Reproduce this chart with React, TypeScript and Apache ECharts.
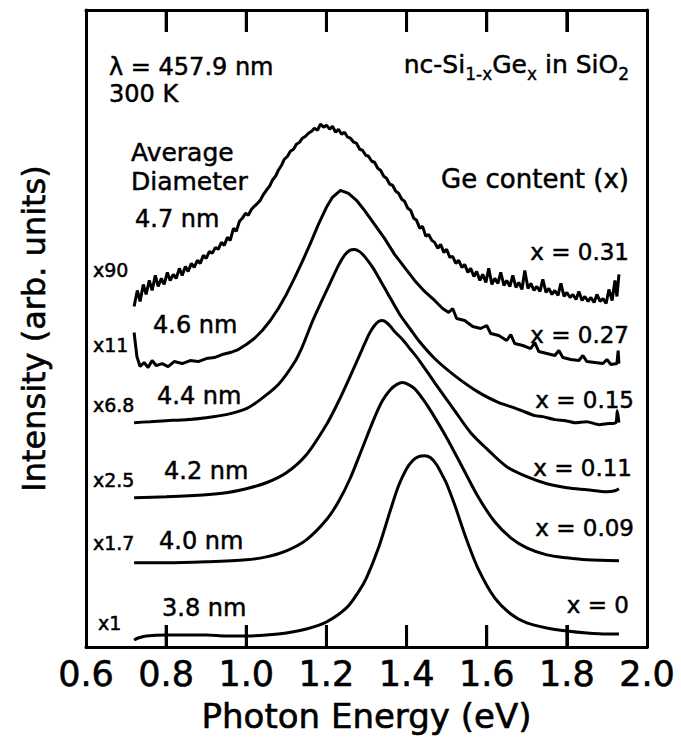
import React, { useEffect, useRef } from "react";
import * as echarts from "echarts";

// ---------- data ----------
const xTickValues = [0.6, 0.8, 1.0, 1.2, 1.4, 1.6, 1.8, 2.0];
const diameters = ["4.7 nm", "4.6 nm", "4.4 nm", "4.2 nm", "4.0 nm", "3.8 nm"];
const multipliers = ["x90", "x11", "x6.8", "x2.5", "x1.7", "x1"];
const geContent = ["x = 0.31", "x = 0.27", "x = 0.15", "x = 0.11", "x = 0.09", "x = 0"];

// PL spectra (photon energy eV, offset intensity arb. units)
const spectrumX90: [number, number][] = [
  [0.72, 340], [0.728, 356], [0.735, 345], [0.743, 362], [0.75, 352], [0.758, 366], [0.765, 356], [0.773, 371],
  [0.78, 360], [0.788, 368], [0.795, 362], [0.803, 374], [0.81, 366], [0.818, 372], [0.825, 368], [0.833, 378],
  [0.84, 371], [0.848, 380], [0.855, 375], [0.863, 383], [0.87, 379], [0.878, 386], [0.885, 383], [0.893, 391],
  [0.9, 388], [0.908, 395], [0.915, 393], [0.923, 399], [0.93, 397], [0.938, 404], [0.945, 401], [0.953, 409],
  [0.96, 406], [0.968, 418], [0.975, 415], [0.983, 425], [0.99, 428], [0.998, 433], [1.005, 431], [1.013, 437],
  [1.02, 440], [1.028, 443], [1.035, 446], [1.043, 452], [1.05, 456], [1.058, 460], [1.065, 466], [1.073, 470],
  [1.08, 476], [1.088, 481], [1.095, 487], [1.103, 490], [1.11, 495], [1.118, 497], [1.125, 502], [1.133, 504],
  [1.14, 508], [1.148, 510], [1.155, 513], [1.163, 515], [1.17, 518], [1.178, 516], [1.185, 522], [1.193, 519],
  [1.2, 521], [1.208, 517], [1.215, 520], [1.223, 514], [1.23, 517], [1.238, 512], [1.245, 514], [1.253, 509],
  [1.26, 508], [1.268, 504], [1.275, 503], [1.283, 497], [1.29, 496], [1.298, 491], [1.305, 490], [1.313, 485],
  [1.32, 484], [1.328, 478], [1.335, 476], [1.343, 470], [1.35, 468], [1.358, 462], [1.365, 461], [1.373, 455],
  [1.38, 453], [1.388, 447], [1.395, 445], [1.403, 438], [1.41, 436], [1.418, 428], [1.425, 426], [1.433, 418],
  [1.44, 420], [1.448, 410], [1.455, 412], [1.463, 406], [1.47, 404], [1.478, 398], [1.485, 402], [1.493, 394],
  [1.5, 397], [1.508, 389], [1.515, 390], [1.523, 383], [1.53, 386], [1.538, 379], [1.545, 382], [1.553, 374],
  [1.56, 378], [1.568, 370], [1.575, 375], [1.583, 366], [1.59, 372], [1.598, 364], [1.605, 378], [1.613, 362],
  [1.62, 368], [1.628, 363], [1.635, 374], [1.643, 361], [1.65, 366], [1.658, 360], [1.665, 371], [1.673, 359],
  [1.68, 364], [1.688, 357], [1.695, 376], [1.703, 358], [1.71, 363], [1.718, 356], [1.725, 360], [1.733, 355],
  [1.74, 367], [1.748, 354], [1.755, 358], [1.763, 352], [1.77, 356], [1.778, 351], [1.785, 363], [1.793, 350],
  [1.8, 354], [1.808, 349], [1.815, 352], [1.823, 347], [1.83, 355], [1.838, 346], [1.845, 350], [1.853, 345],
  [1.86, 349], [1.868, 344], [1.875, 352], [1.883, 345], [1.89, 348], [1.898, 343], [1.905, 357], [1.913, 346],
  [1.92, 366], [1.925, 350], [1.93, 372],
];

const spectrumX11: [number, number][] = [
  [0.72, 314], [0.727, 290], [0.735, 280], [0.745, 284], [0.755, 279], [0.765, 286], [0.775, 281], [0.79, 283],
  [0.805, 280], [0.82, 285], [0.84, 283], [0.86, 286], [0.88, 285], [0.9, 288], [0.92, 289], [0.94, 292],
  [0.96, 294], [0.98, 297], [1.0, 302], [1.02, 308], [1.04, 316], [1.06, 326], [1.08, 338], [1.1, 352],
  [1.12, 368], [1.14, 385], [1.16, 403], [1.18, 422], [1.2, 439], [1.215, 449], [1.235, 456], [1.255, 453],
  [1.275, 446], [1.295, 436], [1.32, 422], [1.345, 408], [1.37, 392], [1.395, 379], [1.42, 366], [1.445, 355],
  [1.47, 346], [1.49, 338], [1.505, 334], [1.515, 338], [1.525, 328], [1.545, 326], [1.565, 320], [1.585, 318],
  [1.6, 321], [1.61, 313], [1.63, 311], [1.65, 306], [1.66, 312], [1.67, 303], [1.69, 301], [1.71, 298],
  [1.72, 304], [1.73, 295], [1.75, 293], [1.77, 291], [1.78, 296], [1.79, 289], [1.81, 287], [1.83, 286],
  [1.84, 291], [1.85, 285], [1.87, 284], [1.89, 283], [1.9, 287], [1.91, 282], [1.925, 283], [1.928, 296],
  [1.93, 283],
];

const spectrumX68: [number, number][] = [
  [0.72, 224], [0.76, 225], [0.8, 226], [0.85, 227], [0.9, 229], [0.95, 232], [1.0, 238], [1.035, 247],
  [1.08, 262], [1.12, 284], [1.14, 300], [1.165, 325], [1.19, 347], [1.21, 364], [1.23, 381], [1.245, 391],
  [1.258, 396], [1.27, 397], [1.282, 395], [1.295, 390], [1.317, 378], [1.35, 355], [1.383, 332], [1.41, 317],
  [1.43, 306], [1.47, 288], [1.52, 271], [1.577, 255], [1.63, 244], [1.66, 240], [1.687, 236], [1.72, 231],
  [1.74, 230], [1.77, 227], [1.797, 226], [1.82, 224], [1.85, 225], [1.88, 222], [1.9, 223], [1.922, 224],
  [1.926, 236], [1.93, 224],
];

const spectrumX25: [number, number][] = [
  [0.72, 149], [0.8, 150], [0.9, 152], [0.95, 154], [1.0, 158], [1.05, 164], [1.1, 174], [1.15, 192],
  [1.2, 222], [1.23, 245], [1.26, 271], [1.29, 298], [1.3, 307], [1.31, 315], [1.32, 321], [1.33, 325],
  [1.34, 326], [1.35, 324], [1.36, 320], [1.37, 315], [1.39, 307], [1.41, 297], [1.43, 287], [1.47, 264],
  [1.52, 236], [1.56, 214], [1.6, 198], [1.65, 180], [1.7, 170], [1.75, 163], [1.8, 159], [1.85, 157],
  [1.9, 155], [1.92, 156], [1.93, 158],
];

const spectrumX17: [number, number][] = [
  [0.72, 84], [0.8, 84], [0.9, 85], [1.0, 87], [1.05, 90], [1.1, 96], [1.15, 107], [1.2, 127],
  [1.23, 145], [1.26, 169], [1.29, 199], [1.32, 229], [1.34, 246], [1.36, 257], [1.375, 262], [1.39, 264],
  [1.405, 262], [1.42, 258], [1.44, 248], [1.46, 236], [1.5, 209], [1.54, 179], [1.58, 149], [1.62, 125],
  [1.66, 109], [1.7, 99], [1.75, 92], [1.8, 89], [1.85, 87], [1.93, 86],
];

const spectrumX1: [number, number][] = [
  [0.72, 7], [0.73, 9], [0.75, 11], [0.8, 12], [0.85, 12], [0.9, 12], [0.95, 11], [1.0, 11],
  [1.05, 12], [1.1, 14], [1.15, 18], [1.2, 25], [1.25, 39], [1.28, 55], [1.3, 69], [1.33, 99],
  [1.36, 137], [1.38, 161], [1.4, 178], [1.415, 186], [1.43, 190], [1.445, 191], [1.46, 189], [1.475, 182],
  [1.49, 171], [1.5, 163], [1.52, 142], [1.55, 107], [1.58, 77], [1.62, 49], [1.66, 33], [1.7, 24],
  [1.75, 19], [1.8, 16], [1.85, 14], [1.9, 13], [1.93, 13],
];

const spectra = [spectrumX90, spectrumX11, spectrumX68, spectrumX25, spectrumX17, spectrumX1];
const smoothness = [0, 0, 0.2, 0.3, 0.3, 0.3];

// ---------- component ----------
export default function App() {
  const ref = useRef<HTMLDivElement>(null);

  useEffect(() => {
    document.body.style.margin = "0";
    if (!ref.current) return;
    const chart = echarts.init(ref.current, null, { renderer: "svg" });
    const font = "DejaVu Sans";
    const ink = "#000";
    const yMax = 636;
    const tickLen = 22;

    const sizeLabelPos = [
      [135, 219], [153, 325], [157, 396], [164, 471], [159, 541], [162, 608],
    ];
    const multLabelPos = [
      [93, 270], [93, 345], [93, 405], [93, 480], [93, 543], [98, 623],
    ];
    const geLabelPos = [
      [629, 252], [629, 335], [634, 400], [632, 468], [634, 528], [629, 605],
    ];

    const txt = (x: number, y: number, text: string, size: number, align = "left") => ({
      type: "text",
      x,
      y,
      silent: true,
      style: {
        text,
        fontSize: size,
        fontFamily: font,
        fill: ink,
        stroke: ink,
        lineWidth: 0.5,
        align,
        verticalAlign: "middle",
      },
    });

    const graphics: any[] = [
      txt(109, 67, "λ = 457.9 nm", 24),
      txt(109, 94, "300 K", 24),
      {
        type: "text",
        x: 629,
        y: 67,
        silent: true,
        style: {
          text: "{a|nc-Si}{b|1-x}{a|Ge}{b|x}{a| in SiO}{b|2}",
          fontFamily: font,
          fill: ink,
          align: "right",
          verticalAlign: "middle",
          rich: {
            a: { fontSize: 25, lineHeight: 30, verticalAlign: "top", fontFamily: font, fill: ink, stroke: ink, lineWidth: 0.5 },
            b: { fontSize: 17, lineHeight: 12, verticalAlign: "bottom", fontFamily: font, fill: ink, stroke: ink, lineWidth: 0.4 },
          },
        },
      },
      txt(131, 152, "Average", 25),
      txt(131, 181, "Diameter", 25),
      txt(629, 179, "Ge content (x)", 26, "right"),
    ];
    diameters.forEach((d, i) => graphics.push(txt(sizeLabelPos[i][0], sizeLabelPos[i][1], d, 24)));
    multipliers.forEach((m, i) => graphics.push(txt(multLabelPos[i][0], multLabelPos[i][1], m, 19)));
    geContent.forEach((g, i) => graphics.push(txt(geLabelPos[i][0], geLabelPos[i][1], g, 23, "right")));

    const lineW = 3;
    const xAxisBase = {
      type: "value",
      min: xTickValues[0],
      max: xTickValues[xTickValues.length - 1],
      interval: 0.2,
      splitLine: { show: false },
      axisLine: { show: true, onZero: false, lineStyle: { color: ink, width: lineW } },
      axisTick: { show: true, inside: true, length: tickLen, lineStyle: { color: ink, width: 3 } },
    };

    // inner tick marks as broken line series on the bottom and top edges of the frame
    const innerTicks = xTickValues.slice(1, -1);
    const bottomTickData: any[] = [];
    const topTickData: any[] = [];
    innerTicks.forEach((v) => {
      bottomTickData.push([v, 0], [v, tickLen], [v, "-"]);
      topTickData.push([v, yMax], [v, yMax - tickLen], [v, "-"]);
    });
    const tickSeries = (data: any[], name: string) => ({
      type: "line",
      name,
      data,
      xAxisIndex: 0,
      yAxisIndex: 0,
      showSymbol: false,
      symbol: "none",
      connectNulls: false,
      clip: false,
      silent: true,
      lineStyle: { color: ink, width: 3, cap: "butt" },
      z: 5,
    });

    chart.setOption({
      animation: false,
      backgroundColor: "#fff",
      grid: { left: 86, right: 34, top: 10, bottom: 92 },
      xAxis: [
        {
          ...xAxisBase,
          position: "bottom",
          name: "Photon Energy (eV)",
          nameLocation: "middle",
          nameGap: 52,
          nameTextStyle: { fontSize: 34, fontFamily: font, color: ink, textBorderColor: ink, textBorderWidth: 0.6 },
          axisLabel: {
            show: true,
            fontSize: 35,
            fontFamily: font,
            color: ink,
            textBorderColor: ink,
            textBorderWidth: 0.6,
            margin: 9,
            showMinLabel: true,
            showMaxLabel: true,
            formatter: (v: number) => v.toFixed(1),
          },
        },
        { ...xAxisBase, position: "top", axisLabel: { show: false } },
      ],
      yAxis: [
        {
          type: "value",
          min: 0,
          max: yMax,
          position: "left",
          name: "Intensity (arb. units)",
          nameLocation: "middle",
          nameGap: 36,
          nameTextStyle: { fontSize: 32, fontFamily: font, color: ink, textBorderColor: ink, textBorderWidth: 0.6 },
          axisLine: { show: true, lineStyle: { color: ink, width: lineW } },
          axisTick: { show: false },
          axisLabel: { show: false },
          splitLine: { show: false },
        },
        {
          type: "value",
          min: 0,
          max: yMax,
          position: "right",
          axisLine: { show: true, lineStyle: { color: ink, width: lineW } },
          axisTick: { show: false },
          axisLabel: { show: false },
          splitLine: { show: false },
        },
      ],
      series: [
        ...spectra.map((s, i) => ({
          type: "line",
          name: diameters[i],
          data: s,
          xAxisIndex: 0,
          yAxisIndex: 0,
          showSymbol: false,
          symbol: "none",
          smooth: smoothness[i],
          silent: true,
          lineStyle: { color: ink, width: 3 },
          z: 3,
        })),
        tickSeries(bottomTickData, "bottom ticks"),
        tickSeries(topTickData, "top ticks"),
      ],
      graphic: graphics,
    });

    return () => chart.dispose();
  }, []);

  return <div ref={ref} style={{ width: 681, height: 739 }} />;
}
